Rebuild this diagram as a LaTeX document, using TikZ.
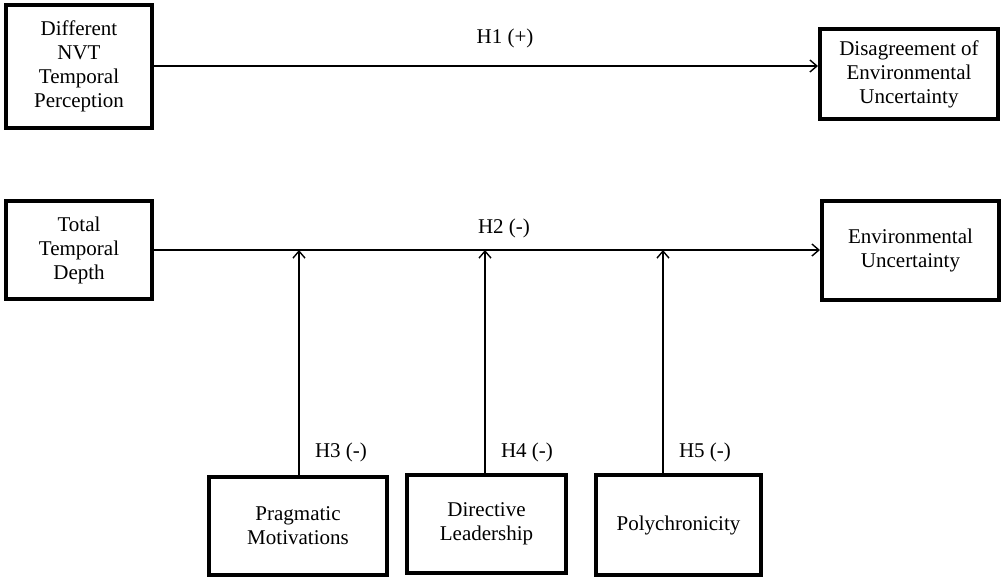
\documentclass[tikz,border=0pt]{standalone}
\usepackage{fontspec}
\setmainfont{Liberation Serif}
\usetikzlibrary{arrows.meta, positioning}

\begin{document}
\begin{tikzpicture}[x=0.5pt, y=-0.5pt, font=\fontsize{10.5}{12}\selectfont,
    box/.style={draw, line width=2pt, align=center, inner sep=0pt},
    link/.style={-{Straight Barb[length=3.5pt, width=6pt]}, line width=0.7pt}]
    \useasboundingbox (0,0) rectangle (1003,580);
    % upper row
    \node[box, minimum width=73pt, minimum height=61.5pt] (nvt) at (79,66) {Different\\NVT\\Temporal\\Perception};
    \node[box, minimum width=89pt, minimum height=45pt] (disag) at (909,74) {Disagreement of\\Environmental\\Uncertainty};
    \node[box, minimum width=73pt, minimum height=49pt] (total) at (79,250) {Total\\Temporal\\Depth};
    \node[box, minimum width=88.5pt, minimum height=49.5pt] (env) at (910.5,250.5) {Environmental\\Uncertainty};
    % moderators
    \node[box, minimum width=89pt, minimum height=49pt] (prag) at (298,526) {Pragmatic\\Motivations};
    \node[box, minimum width=79.5pt, minimum height=49pt] (dir) at (486.5,524) {Directive\\Leadership};
    \node[box, minimum width=82.5pt, minimum height=50pt] (poly) at (678.5,525) {Polychronicity};

    \draw[link] (nvt) -- (nvt -| disag.west);
    \draw[link] (total) -- (total -| env.west);
    \node (h1) at (505,38) {H1 (+)};
    \node (h2) at (504,228) {H2 (-)};
    \foreach \b/\x/\h in {prag/299/3, dir/485/4, poly/663/5} {
        \draw[link] (\x,0 |- \b.north) -- (\x,0 |- total);
        \node[anchor=west] (h\h) at (\x+9,452) {H\h\ (-)};
    }
\end{tikzpicture}
\end{document}
